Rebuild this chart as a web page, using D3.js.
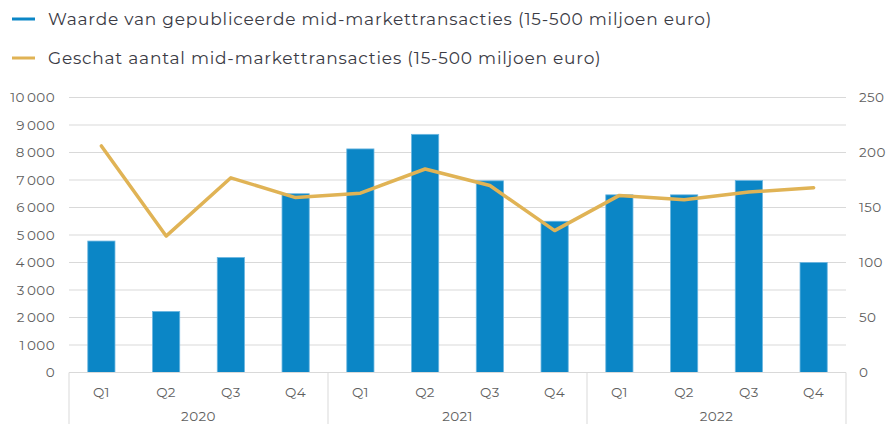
<!DOCTYPE html>
<html><head><meta charset="utf-8">
<script src="https://cdn.jsdelivr.net/npm/d3@7"></script>
<style>body{margin:0;background:#fff}svg{display:block}</style>
</head><body>
<svg id="c" width="890" height="424"></svg>
<script>
const quarters = ["Q1","Q2","Q3","Q4","Q1","Q2","Q3","Q4","Q1","Q2","Q3","Q4"];
const years = ["2020","2021","2022"];
const valueSeries = [4780, 2220, 4180, 6500, 8130, 8660, 6970, 5500, 6460, 6460, 6980, 4000];
const countSeries = [206, 124, 177, 159, 163, 185, 170, 129, 161, 157, 164, 168];
const leftTicks = [0,1000,2000,3000,4000,5000,6000,7000,8000,9000,10000];
const rightTicks = [0,50,100,150,200,250];
const legendLabels = ["Waarde van gepubliceerde mid-markettransacties (15-500 miljoen euro)","Geschat aantal mid-markettransacties (15-500 miljoen euro)"];

const blue = "#0b86c6", gold = "#e0b355", grid = "#d9d9d9", tickCol = "#5f5f5f";
const font = "Montserrat, 'Noto Sans', 'DejaVu Sans', sans-serif";
const svg = d3.select("#c");
const L = 69, R = 846, T = 97.5, B = 372.5;
const idx = d3.range(quarters.length);
const x = d3.scaleBand().domain(idx).range([L, R]).paddingInner(0.58).paddingOuter(0.29);
const xc = i => x(i) + x.bandwidth()/2;
const yL = d3.scaleLinear().domain([0,10000]).range([B, T]);
const yR = d3.scaleLinear().domain([0,250]).range([B, T]);

// grid
svg.append("g").selectAll("line").data(leftTicks).join("line")
  .attr("x1", L).attr("x2", R).attr("y1", d=>yL(d)).attr("y2", d=>yL(d))
  .attr("stroke", grid).attr("stroke-width", 1);

// left axis
const fmt = d => d >= 1000 ? String(Math.floor(d/1000)) + "\u2009" + String(d%1000).padStart(3,"0") : String(d);
const la = svg.append("g").attr("transform", `translate(${L},0)`)
  .call(d3.axisLeft(yL).tickValues(leftTicks).tickFormat(fmt).tickSize(0).tickPadding(14));
la.select(".domain").remove();
la.selectAll("text").attr("font-family", font).attr("font-size", 13.5).attr("fill", tickCol).attr("letter-spacing", 0.4);

// right axis
const ra = svg.append("g").attr("transform", `translate(${R},0)`)
  .call(d3.axisRight(yR).tickValues(rightTicks).tickSize(0).tickPadding(13));
ra.select(".domain").remove();
ra.selectAll("text").attr("font-family", font).attr("font-size", 13.5).attr("fill", tickCol).attr("letter-spacing", 0.4);

// bars
svg.append("g").selectAll("rect").data(valueSeries).join("rect")
  .attr("x", (d,i)=>x(i)).attr("width", x.bandwidth())
  .attr("y", d=>yL(d)).attr("height", d=>B - yL(d))
  .attr("fill", blue).attr("stroke", "#6bb6e0").attr("stroke-width", 0.8);

// line
const line = d3.line().x((d,i)=>xc(i)).y(d=>yR(d));
svg.append("path").datum(countSeries).attr("d", line)
  .attr("fill", "none").attr("stroke", gold).attr("stroke-width", 3.5)
  .attr("stroke-linejoin", "round").attr("stroke-linecap", "round");

// category axis
svg.append("line").attr("x1", L).attr("x2", R).attr("y1", B).attr("y2", B).attr("stroke", grid);
const groupW = (R - L) / years.length;
svg.append("g").selectAll("line").data(d3.range(years.length+1)).join("line")
  .attr("x1", d=>L + d*groupW).attr("x2", d=>L + d*groupW)
  .attr("y1", B).attr("y2", 424).attr("stroke", grid);
svg.append("g").selectAll("text").data(quarters).join("text")
  .attr("x", (d,i)=>xc(i)).attr("y", 397).attr("text-anchor", "middle")
  .attr("font-family", font).attr("font-size", 13.5).attr("fill", tickCol).attr("letter-spacing", 0.4).text(d=>d);
svg.append("g").selectAll("text").data(years).join("text")
  .attr("x", (d,i)=>L + (i+0.5)*groupW).attr("y", 421).attr("text-anchor", "middle")
  .attr("font-family", font).attr("font-size", 13.5).attr("fill", tickCol).attr("letter-spacing", 0.4).text(d=>d);

// legend
const lg = svg.append("g");
[blue, gold].forEach((c, i) => {
  const y = 19 + i*39;
  lg.append("line").attr("x1", 12).attr("x2", 35).attr("y1", y).attr("y2", y)
    .attr("stroke", c).attr("stroke-width", 3);
  lg.append("text").attr("x", 48).attr("y", y + 6).attr("font-family", font)
    .attr("font-size", 17).attr("letter-spacing", 0.78).attr("fill", "#3b3b45").text(legendLabels[i]);
});
</script>
</body></html>
